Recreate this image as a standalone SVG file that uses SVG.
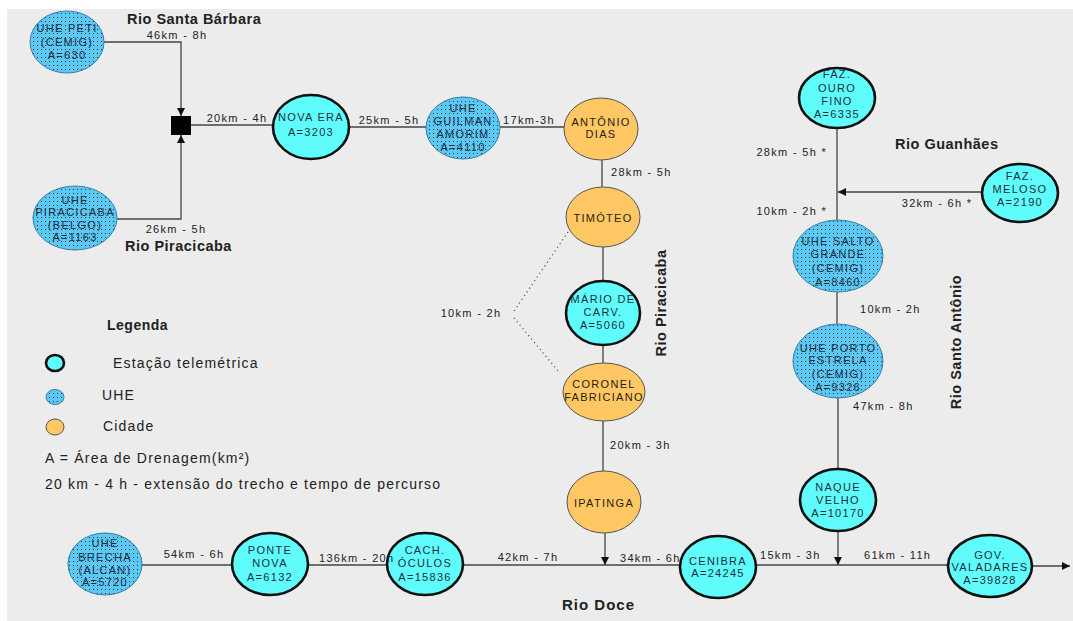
<svg xmlns="http://www.w3.org/2000/svg" width="1073" height="621" viewBox="0 0 1073 621">
<style>
.tel{fill:#60fcfc;stroke:#111;stroke-width:2.6}
.uhe{fill:url(#dots);stroke:#3a7fa8;stroke-width:1}
.cid{fill:#ffc864;stroke:#555;stroke-width:1}
.nt{font-family:"Liberation Sans",Arial,sans-serif;font-size:11px;letter-spacing:1.3px;text-anchor:middle;fill:#1c2f3f}
.ct{fill:#2a2010}
.el{font-family:"Liberation Sans",Arial,sans-serif;font-size:11px;letter-spacing:1.3px;fill:#222}
.rv{font-family:"Liberation Sans",Arial,sans-serif;font-size:14.5px;font-weight:bold;letter-spacing:0.5px;fill:#222}
.lg{font-family:"Liberation Sans",Arial,sans-serif;font-size:14px;letter-spacing:1.2px;fill:#222}
.ln{fill:none;stroke:#444;stroke-width:1.3}
.dt{fill:none;stroke:#444;stroke-width:1.3;stroke-dasharray:1 3.5}
</style>
<defs>
<pattern id="dots" width="4" height="4" patternUnits="userSpaceOnUse">
<rect width="4" height="4" fill="#5cc8f4"/>
<rect x="1" y="1" width="1" height="1" fill="#234"/>
</pattern>
<marker id="ar" viewBox="0 0 10 10" refX="10" refY="5" markerWidth="8" markerHeight="8" markerUnits="userSpaceOnUse" orient="auto">
<path d="M0,0 L10,5 L0,10 z" fill="#111"/>
</marker>
</defs>
<rect x="7" y="9" width="1066" height="612" fill="#ebeceb"/>

<g id="connectors">
<path class="ln" d="M104,42 H181 V116" marker-end="url(#ar)"/>
<path class="ln" d="M117,219 H181 V135" marker-end="url(#ar)"/>
<path class="ln" d="M191,125 H273"/>
<path class="ln" d="M349,127 H426"/>
<path class="ln" d="M500,127 H564"/>
<path class="ln" d="M602,160 V187"/>
<path class="ln" d="M603,247 V281"/>
<path class="ln" d="M603,345 V363"/>
<path class="ln" d="M603,421 V472"/>
<path class="ln" d="M605,533 V565" marker-end="url(#ar)"/>
<path class="ln" d="M142,565 H232"/>
<path class="ln" d="M308,565 H388"/>
<path class="ln" d="M463,565 H681"/>
<path class="ln" d="M756,565 H948"/>
<path class="ln" d="M1032,566 H1070" marker-end="url(#ar)"/>
<path class="ln" d="M837,127 V221"/>
<path class="ln" d="M982,192 H838" marker-end="url(#ar)"/>
<path class="ln" d="M837,292 V325"/>
<path class="ln" d="M838,398 V469"/>
<path class="ln" d="M838,532 V565" marker-end="url(#ar)"/>
<path class="dt" d="M568,232 L514,311"/>
<path class="dt" d="M514,318 L559,372"/>
<rect x="171" y="116" width="20" height="19" fill="#000"/>
</g>

<g id="rivers">
<text class="rv" x="127" y="24">Rio Santa Bárbara</text>
<text class="rv" x="125" y="251">Rio Piracicaba</text>
<text class="rv" x="0" y="0" text-anchor="middle" transform="translate(666,303) rotate(-90)">Rio Piracicaba</text>
<text class="rv" x="895" y="149">Rio Guanhães</text>
<text class="rv" x="0" y="0" text-anchor="middle" transform="translate(961,342) rotate(-90)">Rio Santo Antônio</text>
<text class="rv" x="562" y="610" style="font-size:15px;letter-spacing:1px">Rio Doce</text>
</g>

<g id="uhe-peti">
<ellipse class="uhe" cx="67" cy="42" rx="37" ry="31"/>
<text class="nt" x="67" y="32">UHE PETI</text>
<text class="nt" x="67" y="46">(CEMIG)</text>
<text class="nt" x="67" y="59">A=630</text>
</g>
<g id="uhe-piracicaba">
<ellipse class="uhe" cx="75" cy="218" rx="42" ry="32"/>
<text class="nt" x="75" y="204">UHE</text>
<text class="nt" x="75" y="216">PIRACICABA</text>
<text class="nt" x="75" y="229">(BELGO)</text>
<text class="nt" x="75" y="241">A=1163</text>
</g>
<g id="nova-era">
<ellipse class="tel" cx="311" cy="127" rx="38" ry="32"/>
<text class="nt" x="311" y="121">NOVA ERA</text>
<text class="nt" x="311" y="136">A=3203</text>
</g>
<g id="uhe-guilman">
<ellipse class="uhe" cx="463" cy="128" rx="37" ry="31"/>
<text class="nt" x="463" y="112">UHE</text>
<text class="nt" x="463" y="125">GUILMAN</text>
<text class="nt" x="463" y="138">AMORIM</text>
<text class="nt" x="463" y="151">A=4110</text>
</g>
<g id="antonio-dias">
<ellipse class="cid" cx="601" cy="129" rx="37" ry="31"/>
<text class="nt ct" x="601" y="126">ANTÔNIO</text>
<text class="nt ct" x="601" y="138">DIAS</text>
</g>
<g id="timoteo">
<ellipse class="cid" cx="603" cy="217" rx="37" ry="30"/>
<text class="nt ct" x="603" y="222">TIMÓTEO</text>
</g>
<g id="mario-de-carvalho">
<ellipse class="tel" cx="603" cy="313" rx="37" ry="32"/>
<text class="nt" x="603" y="303">MÁRIO DE</text>
<text class="nt" x="603" y="316">CARV.</text>
<text class="nt" x="603" y="329">A=5060</text>
</g>
<g id="coronel-fabriciano">
<ellipse class="cid" cx="604" cy="392" rx="41" ry="29"/>
<text class="nt ct" x="604" y="388">CORONEL</text>
<text class="nt ct" x="604" y="401">FABRICIANO</text>
</g>
<g id="ipatinga">
<ellipse class="cid" cx="604" cy="502" rx="37" ry="31"/>
<text class="nt ct" x="604" y="507">IPATINGA</text>
</g>
<g id="ouro-fino">
<ellipse class="tel" cx="837" cy="98" rx="38" ry="30"/>
<text class="nt" x="837" y="78">FAZ.</text>
<text class="nt" x="837" y="92">OURO</text>
<text class="nt" x="837" y="105">FINO</text>
<text class="nt" x="837" y="118">A=6335</text>
</g>
<g id="meloso">
<ellipse class="tel" cx="1020" cy="193" rx="38" ry="29"/>
<text class="nt" x="1020" y="180">FAZ.</text>
<text class="nt" x="1020" y="193">MELOSO</text>
<text class="nt" x="1020" y="206">A=2190</text>
</g>
<g id="uhe-salto-grande">
<ellipse class="uhe" cx="838" cy="256" rx="45" ry="36"/>
<text class="nt" x="838" y="245">UHE SALTO</text>
<text class="nt" x="838" y="258">GRANDE</text>
<text class="nt" x="838" y="272">(CEMIG)</text>
<text class="nt" x="838" y="286">A=8460</text>
</g>
<g id="uhe-porto-estrela">
<ellipse class="uhe" cx="838" cy="361" rx="45" ry="37"/>
<text class="nt" x="838" y="352">UHE PORTO</text>
<text class="nt" x="838" y="364">ESTRELA</text>
<text class="nt" x="838" y="378">(CEMIG)</text>
<text class="nt" x="838" y="391">A=9326</text>
</g>
<g id="naque-velho">
<ellipse class="tel" cx="838" cy="500" rx="38" ry="31"/>
<text class="nt" x="838" y="491">NAQUE</text>
<text class="nt" x="838" y="504">VELHO</text>
<text class="nt" x="838" y="517">A=10170</text>
</g>
<g id="gov-valadares">
<ellipse class="tel" cx="990" cy="566" rx="42" ry="31"/>
<text class="nt" x="990" y="559">GOV.</text>
<text class="nt" x="990" y="571">VALADARES</text>
<text class="nt" x="990" y="584">A=39828</text>
</g>
<g id="cenibra">
<ellipse class="tel" cx="718" cy="567" rx="38" ry="31"/>
<text class="nt" x="718" y="565">CENIBRA</text>
<text class="nt" x="718" y="577">A=24245</text>
</g>
<g id="cach-oculos">
<ellipse class="tel" cx="425" cy="564" rx="38" ry="31"/>
<text class="nt" x="425" y="554">CACH.</text>
<text class="nt" x="425" y="567">ÓCULOS</text>
<text class="nt" x="425" y="581">A=15836</text>
</g>
<g id="ponte-nova">
<ellipse class="tel" cx="270" cy="564" rx="38" ry="31"/>
<text class="nt" x="270" y="554">PONTE</text>
<text class="nt" x="270" y="567">NOVA</text>
<text class="nt" x="270" y="581">A=6132</text>
</g>
<g id="uhe-brecha">
<ellipse class="uhe" cx="105" cy="564" rx="37" ry="31"/>
<text class="nt" x="105" y="547">UHE</text>
<text class="nt" x="105" y="561">BRECHA</text>
<text class="nt" x="105" y="574">(ALCAN)</text>
<text class="nt" x="105" y="586">A=5720</text>
</g>

<g id="edge-labels">
<text class="el" x="177" y="39" text-anchor="middle">46km - 8h</text>
<text class="el" x="176" y="233" text-anchor="middle">26km - 5h</text>
<text class="el" x="237" y="122" text-anchor="middle">20km - 4h</text>
<text class="el" x="389" y="124" text-anchor="middle">25km - 5h</text>
<text class="el" x="529" y="124" text-anchor="middle">17km-3h</text>
<text class="el" x="611" y="176">28km - 5h</text>
<text class="el" x="471" y="317" text-anchor="middle">10km - 2h</text>
<text class="el" x="610" y="449">20km - 3h</text>
<text class="el" x="827" y="156" text-anchor="end">28km - 5h *</text>
<text class="el" x="827" y="215" text-anchor="end">10km - 2h *</text>
<text class="el" x="937" y="207" text-anchor="middle">32km - 6h *</text>
<text class="el" x="860" y="313">10km - 2h</text>
<text class="el" x="853" y="410">47km - 8h</text>
<text class="el" x="194" y="558" text-anchor="middle">54km - 6h</text>
<text class="el" x="319" y="562">136km - 20h</text>
<text class="el" x="528" y="561" text-anchor="middle">42km - 7h</text>
<text class="el" x="620" y="562">34km - 6h</text>
<text class="el" x="760" y="559">15km - 3h</text>
<text class="el" x="864" y="559">61km - 11h</text>
</g>

<g id="legend">
<text class="rv" x="107" y="330" style="font-size:14px">Legenda</text>
<ellipse class="tel" cx="55" cy="363" rx="9" ry="8"/>
<text class="lg" x="113" y="368">Estação telemétrica</text>
<ellipse class="uhe" cx="55" cy="397" rx="9" ry="7.5"/>
<text class="lg" x="102" y="400">UHE</text>
<ellipse class="cid" cx="55" cy="427" rx="9" ry="8"/>
<text class="lg" x="103" y="431">Cidade</text>
<text class="lg" x="45" y="463">A = Área de Drenagem(km²)</text>
<text class="lg" x="45" y="489">20 km - 4 h - extensão do trecho e tempo de percurso</text>
</g>
</svg>
